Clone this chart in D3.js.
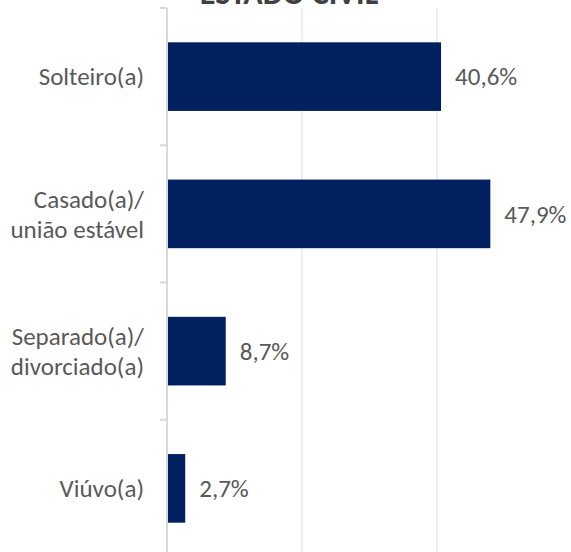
<!DOCTYPE html>
<html><head><meta charset="utf-8">
<script src="https://cdn.jsdelivr.net/npm/d3@7"></script>
<style>
html,body{margin:0;padding:0;background:#fff;}
svg{display:block;}
</style></head>
<body>
<svg id="chart" width="571" height="552"></svg>
<script>
const title = "ESTADO CIVIL";
const categories = [["Solteiro(a)"], ["Casado(a)/", "união estável"], ["Separado(a)/", "divorciado(a)"], ["Viúvo(a)"]];
const values = [40.6, 47.9, 8.7, 2.7];
const valueLabels = ["40,6%", "47,9%", "8,7%", "2,7%"];
const gridTicks = [20, 40, 60];

const svg = d3.select("#chart");
const W = 571, H = 552;
const font = "Calibri, Carlito, Lato, sans-serif";
const ids = categories.map((c, i) => i);

const x = d3.scaleLinear().domain([0, 60]).range([167, 572]);
const y = d3.scaleBand().domain(ids).range([8, 557]).paddingInner(0.5).paddingOuter(0.25);

// gridlines
svg.append("g").selectAll("line").data(gridTicks).join("line")
  .attr("x1", d => x(d)).attr("x2", d => x(d))
  .attr("y1", 8).attr("y2", H)
  .attr("stroke", "#eaeaea").attr("stroke-width", 1.5);

// bars
svg.append("g").selectAll("rect").data(values).join("rect")
  .attr("x", x(0)).attr("y", (d, i) => y(i))
  .attr("width", d => x(d) - x(0)).attr("height", y.bandwidth())
  .attr("fill", "#002060");

// category axis
const step = y.step();
const bounds = [0, 1, 2, 3, 4].map(k => 8 + k * step);
const ax = svg.append("g");
ax.append("line").attr("x1", x(0)).attr("x2", x(0)).attr("y1", 8).attr("y2", H)
  .attr("stroke", "#d9d9d9").attr("stroke-width", 2);
ax.selectAll("line.tick").data(bounds).join("line").attr("class", "tick")
  .attr("x1", x(0) - 7).attr("x2", x(0)).attr("y1", d => d).attr("y2", d => d)
  .attr("stroke", "#d9d9d9").attr("stroke-width", 2);

// category labels
const fs = 25;
const lh = 30;
svg.append("g").selectAll("text").data(categories).join("text")
  .attr("text-anchor", "end")
  .attr("font-family", font).attr("font-size", fs).attr("fill", "#595959")
  .each(function(lines, i) {
    const cy = y(i) + y.bandwidth() / 2;
    const t = d3.select(this);
    lines.forEach((ln, k) => {
      t.append("tspan").attr("x", 144)
        .attr("y", cy + (k - (lines.length - 1) / 2) * lh)
        .attr("dy", "0.35em").text(ln);
    });
  });

// value labels
svg.append("g").selectAll("text").data(values).join("text")
  .attr("x", d => x(d) + 14).attr("y", (d, i) => y(i) + y.bandwidth() / 2)
  .attr("dy", "0.35em")
  .attr("font-family", font).attr("font-size", fs).attr("fill", "#595959")
  .text((d, i) => valueLabels[i]);

// title (cropped at top, as in the reference)
svg.append("text").attr("x", 289).attr("y", 4).attr("text-anchor", "middle")
  .attr("font-family", font).attr("font-size", 32).attr("font-weight", "bold")
  .attr("fill", "#404040").text(title);
</script>
</body></html>
